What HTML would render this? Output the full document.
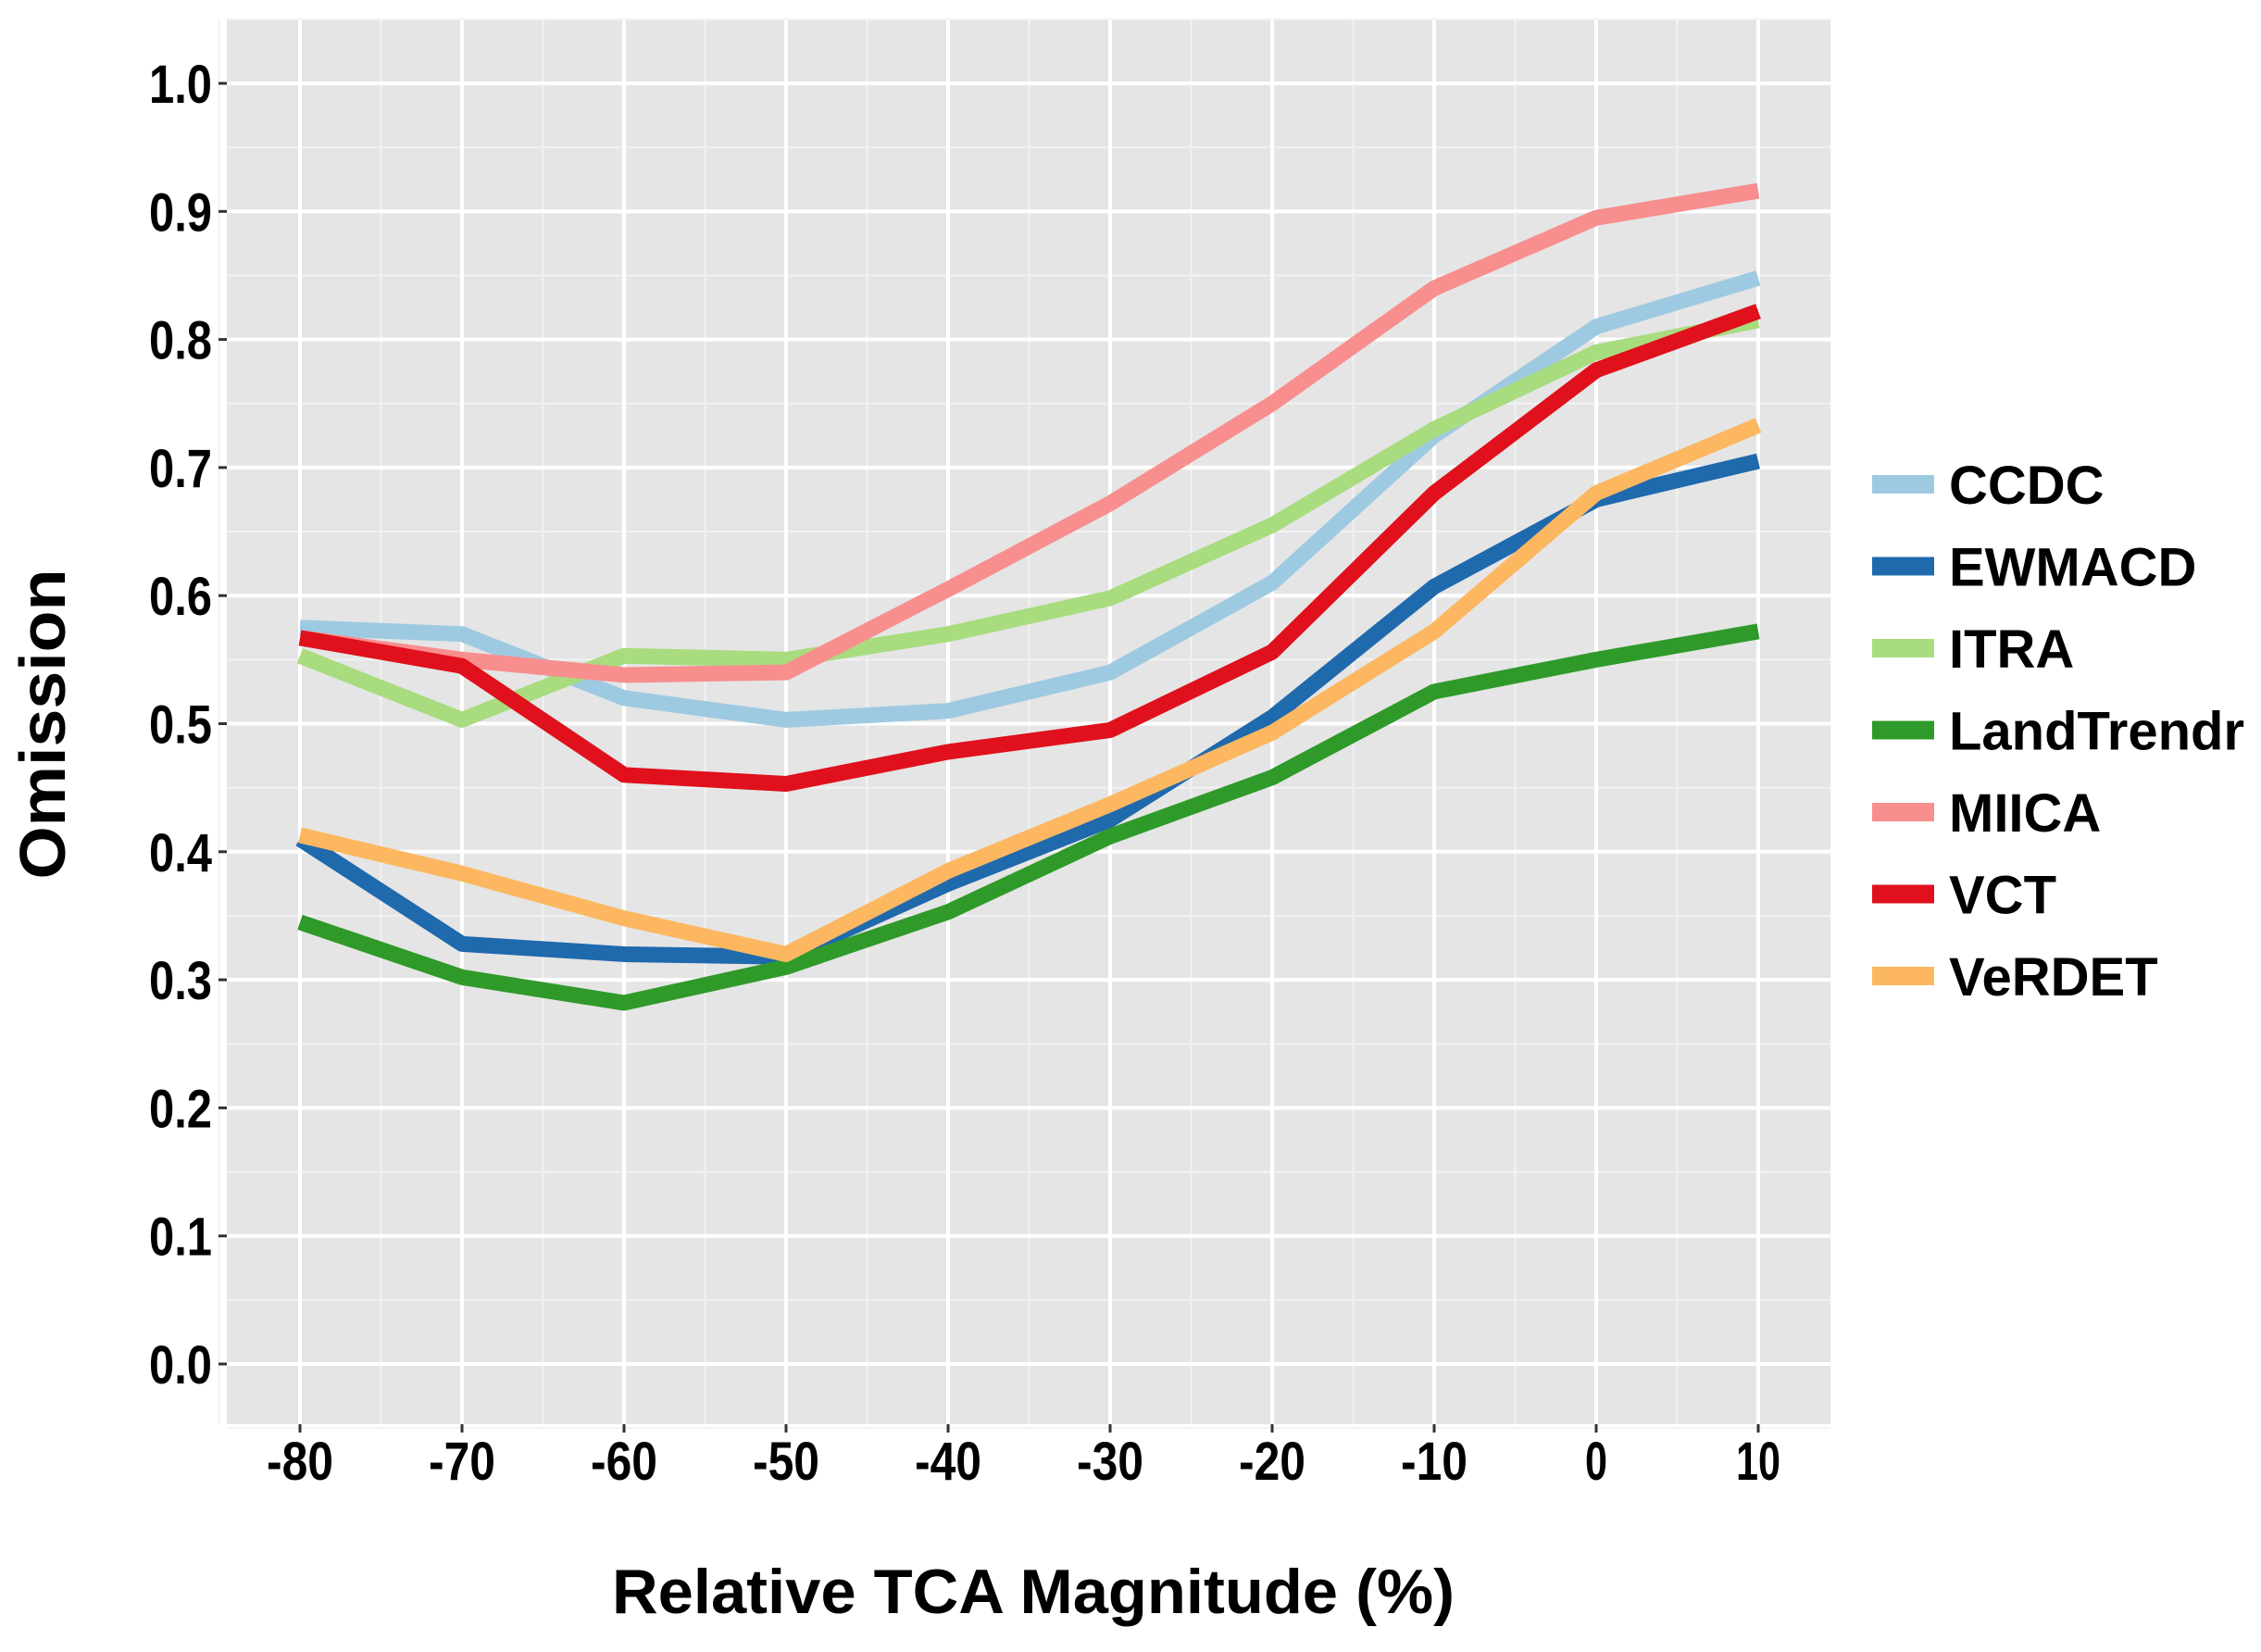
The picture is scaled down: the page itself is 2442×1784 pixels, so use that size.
<!DOCTYPE html>
<html><head><meta charset="utf-8"><style>
html,body{margin:0;padding:0;background:#fff;}
svg text{font-family:"Liberation Sans",sans-serif;font-weight:bold;fill:#000;}
</style></head><body>
<svg id="chart" width="2442" height="1779" viewBox="0 0 2442 1779" xmlns="http://www.w3.org/2000/svg">
<rect x="245" y="22" width="1732" height="1516" fill="#e5e5e5"/>
<g id="grid"></g><g id="axes"></g><g id="series"></g><g id="legend"></g>
<text x="1116" y="1742" font-size="68" text-anchor="middle" textLength="910" lengthAdjust="spacingAndGlyphs">Relative TCA Magnitude (%)</text>
<text transform="translate(70,782) rotate(-90)" font-size="70" text-anchor="middle" textLength="335" lengthAdjust="spacingAndGlyphs">Omission</text>
</svg>
<script>
const xCats=[-80,-70,-60,-50,-40,-30,-20,-10,0,10];
const xTickLabels=["-80","-70","-60","-50","-40","-30","-20","-10","0","10"];
const yTicks=[0,0.1,0.2,0.3,0.4,0.5,0.6,0.7,0.8,0.9,1.0];
const yTickLabels=["0.0","0.1","0.2","0.3","0.4","0.5","0.6","0.7","0.8","0.9","1.0"];
const seriesNames=["CCDC","EWMACD","ITRA","LandTrendr","MIICA","VCT","VeRDET"];
const seriesColors=["#9ecae1","#1f69ad","#a8dc7e","#2f9a2a","#f88e8e","#e0101c","#fcb760"];
const ccdc=[0.575,0.570,0.520,0.503,0.510,0.540,0.610,0.725,0.810,0.848];
const ewmacd=[0.410,0.328,0.320,0.318,0.375,0.425,0.505,0.607,0.675,0.705];
const itra=[0.553,0.503,0.553,0.550,0.570,0.598,0.655,0.730,0.790,0.815];
const landtrendr=[0.345,0.302,0.282,0.310,0.353,0.412,0.458,0.525,0.550,0.572];
const miica=[0.567,0.550,0.538,0.540,0.605,0.672,0.750,0.840,0.895,0.916];
const vct=[0.567,0.545,0.460,0.453,0.478,0.495,0.556,0.680,0.776,0.822];
const verdet=[0.413,0.383,0.348,0.320,0.385,0.437,0.493,0.572,0.680,0.733];
const allSeries=[ccdc,ewmacd,itra,landtrendr,miica,vct,verdet];
const NS="http://www.w3.org/2000/svg";
const X=v=>1724+(v-0)*17.5;
const Y=v=>1473-v*1383;
function mk(tag,attrs,parent){const e=document.createElementNS(NS,tag);for(const k in attrs)e.setAttribute(k,attrs[k]);parent.appendChild(e);return e;}
const grid=document.getElementById('grid'),axes=document.getElementById('axes'),ser=document.getElementById('series'),leg=document.getElementById('legend');
for(let i=0;i<yTicks.length;i++){
  const v=yTicks[i]+0.05;
  let l=mk('line',{x1:245,x2:1977,y1:Y(v),y2:Y(v),stroke:'#f2f2f2','stroke-width':2},grid);
  
  
}
let lm=mk('line',{x1:245,x2:1977,y1:Y(-0.05),y2:Y(-0.05),stroke:'#f2f2f2','stroke-width':2},grid);


for(let i=0;i<xCats.length;i++){
  const v=xCats[i]+5;
  if(X(v)<1977){let l=mk('line',{x1:X(v),x2:X(v),y1:22,y2:1538,stroke:'#f2f2f2','stroke-width':2},grid);
  
  }
}
let l0=mk('line',{x1:X(xCats[0]-5),x2:X(xCats[0]-5),y1:22,y2:1538,stroke:'#f2f2f2','stroke-width':2},grid);


yTicks.forEach((v,i)=>{
  let l=mk('line',{x1:245,x2:1977,y1:Y(v),y2:Y(v),stroke:'#ffffff','stroke-width':4},grid);
  
  
  let t=mk('line',{x1:236,x2:245,y1:Y(v),y2:Y(v),stroke:'#333','stroke-width':3},axes);
  
  
  let tx=mk('text',{x:229,y:Y(v)+21,'font-size':58,'text-anchor':'end',textLength:68,lengthAdjust:'spacingAndGlyphs'},axes);
  
  
  tx.textContent=yTickLabels[i];
});
xCats.forEach((v,i)=>{
  let l=mk('line',{x1:X(v),x2:X(v),y1:22,y2:1538,stroke:'#ffffff','stroke-width':4},grid);
  
  
  let t=mk('line',{x1:X(v),x2:X(v),y1:1538,y2:1547,stroke:'#333','stroke-width':3},axes);
  
  
  let tx=mk('text',{x:X(v),y:1598,'font-size':58,'text-anchor':'middle',textLength:xTickLabels[i].length*24,lengthAdjust:'spacingAndGlyphs'},axes);
  
  
  tx.textContent=xTickLabels[i];
});
allSeries.forEach((vals,si)=>{
  const pts=vals.map((v,i)=>X(xCats[i])+','+Y(v)).join(' ');
  let p=mk('polyline',{points:pts,fill:'none',stroke:seriesColors[si],'stroke-width':17,'stroke-linejoin':'round'},ser);
  
  
  const ly=523+si*88.5;
  let k=mk('line',{x1:2022,x2:2089,y1:ly,y2:ly,stroke:seriesColors[si],'stroke-width':20},leg);
  
  
  let t=mk('text',{x:2105,y:ly+21,'font-size':58},leg);
  
  
  t.textContent=seriesNames[si];
});
</script>
</body></html>
